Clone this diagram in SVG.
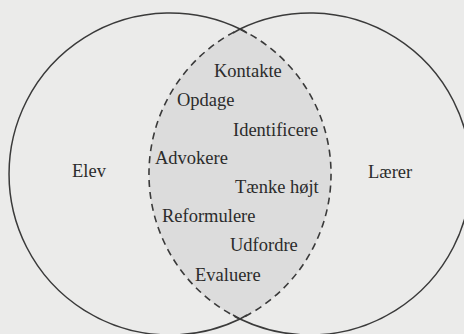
<svg xmlns="http://www.w3.org/2000/svg" width="464" height="334" viewBox="0 0 464 334">
  <style>
    .bg { fill: #ebebea; }
    .solid { fill: none; stroke: #3a3a3a; stroke-width: 1.5; }
    .lens { fill: #dcdcdc; stroke: #3a3a3a; stroke-width: 1.6; stroke-dasharray: 7 5; }
    .lbl { font-family: 'Liberation Serif', 'DejaVu Serif', serif; font-size: 18.5px; fill: #2b2b2b; }
  </style>
  <rect class="bg" x="0" y="0" width="464" height="334"/>
  <g id="connectors">
    <path class="lens" d="M240,29 A161,161 0 0 1 240,319 A161,161 0 0 1 240,29 Z"/>
  </g>
  <g id="elev">
    <path class="solid" d="M247,33 L240,29 A161,161 0 1 0 240,319 L247,315"/>
    <text class="lbl" font-family="Liberation Serif, serif" x="72" y="177">Elev</text>
  </g>
  <g id="laerer">
    <path class="solid" d="M233,33 L240,29 A161,161 0 1 1 240,319 L233,315"/>
    <text class="lbl" font-family="Liberation Serif, serif" x="368" y="178">Lærer</text>
  </g>
  <g id="overlap" class="lbl" font-family="Liberation Serif, serif">
    <text x="214" y="77">Kontakte</text>
    <text x="177" y="106">Opdage</text>
    <text x="233" y="136">Identificere</text>
    <text x="155" y="164">Advokere</text>
    <text x="235" y="193">Tænke højt</text>
    <text x="162" y="222">Reformulere</text>
    <text x="230" y="251">Udfordre</text>
    <text x="195" y="281">Evaluere</text>
  </g>
</svg>
